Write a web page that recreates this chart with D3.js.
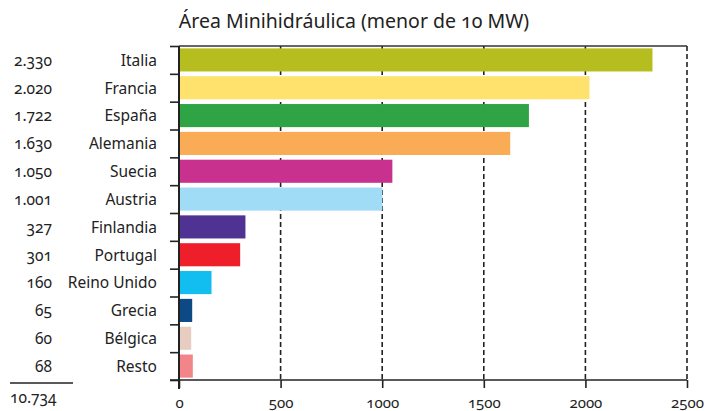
<!DOCTYPE html>
<html>
<head>
<meta charset="utf-8">
<script src="https://cdn.jsdelivr.net/npm/d3@7"></script>
<style>
  body { margin: 0; background: #fff; }
  svg text { font-family: "Noto Sans", sans-serif; fill: #222; font-feature-settings: "onum" 1; }
</style>
</head>
<body>
<div id="chart"></div>
<script>
// Chart data
const categories = ['Italia', 'Francia', 'España', 'Alemania', 'Suecia', 'Austria',
  'Finlandia', 'Portugal', 'Reino Unido', 'Grecia', 'Bélgica', 'Resto']
const values = [2330, 2020, 1722, 1630, 1050, 1001, 327, 301, 160, 65, 60, 68]
const colors = ['#b5bd1f', '#fee26d', '#2ea444', '#f9ab55', '#c9318f', '#a1dcf6',
  '#4f3292', '#ee1f2a', '#12bdef', '#0d4a85', '#e7cdc1', '#f28587']
const xTicks = [0, 500, 1000, 1500, 2000, 2500]
const title = 'Área Minihidráulica (menor de 10 MW)'

const width = 712,
  height = 411,
  plotTop = 46,
  plotBottom = 380,
  plotLeft = 179,
  plotRight = 687

const svg = d3.select('#chart')
  .append('svg')
  .attr('width', width)
  .attr('height', height)

const fmt = d3.formatLocale({ decimal: ',', thousands: '.', grouping: [3], currency: ['', ''] }).format(',d')

const x = d3.scaleLinear()
  .domain([0, 2500])
  .range([plotLeft, plotRight])

const y = d3.scaleBand()
  .domain(categories)
  .range([plotTop, plotBottom])
  .paddingInner(0.17)
  .paddingOuter(0.085)

// band boundaries for the left ticks
const yEdge = d3.scaleLinear()
  .domain([0, categories.length])
  .range([plotTop, plotBottom])

// title
svg.append('text')
  .attr('x', 354)
  .attr('y', 28)
  .attr('text-anchor', 'middle')
  .style('font-size', '19.5px')
  .text(title)

// dashed gridlines
svg.append('g')
  .selectAll('line')
  .data(xTicks.slice(1))
  .enter()
  .append('line')
  .attr('x1', d => x(d))
  .attr('x2', d => x(d))
  .attr('y1', plotTop)
  .attr('y2', plotBottom)
  .attr('stroke', '#222')
  .attr('stroke-width', 1.6)
  .attr('stroke-dasharray', '5,3')

// top frame line
svg.append('line')
  .attr('x1', x(0))
  .attr('x2', x(2500))
  .attr('y1', plotTop)
  .attr('y2', plotTop)
  .attr('stroke', '#333')
  .attr('stroke-width', 1.5)

// bars
svg.selectAll('rect.bar')
  .data(values)
  .enter()
  .append('rect')
  .attr('class', 'bar')
  .attr('x', x(0))
  .attr('y', (d, i) => y(categories[i]))
  .attr('width', d => x(d) - x(0))
  .attr('height', y.bandwidth())
  .attr('fill', (d, i) => colors[i])

// left axis (ticks at band edges)
const yAxis = svg.append('g')
  .attr('transform', `translate(${x(0)},0)`)
  .call(d3.axisLeft(yEdge).tickValues(d3.range(categories.length + 1)).tickSize(9).tickFormat(''))
yAxis.select('.domain').remove()
yAxis.selectAll('line').attr('stroke', '#222').attr('stroke-width', 1.6)
yAxis.append('line')
  .attr('x1', 0).attr('x2', 0)
  .attr('y1', plotTop).attr('y2', plotBottom + 9)
  .attr('stroke', '#222').attr('stroke-width', 2)

// bottom axis
const xAxis = svg.append('g')
  .attr('transform', `translate(0,${plotBottom})`)
  .call(d3.axisBottom(x).tickValues(xTicks).tickFormat(d3.format('d')).tickSize(8).tickPadding(9))
xAxis.select('.domain').remove()
xAxis.selectAll('line').attr('stroke', '#222').attr('stroke-width', 1.6)
xAxis.selectAll('text')
  .style('font-size', '15px')
  .style('font-family', '"Noto Sans", sans-serif')
  .attr('fill', '#222')
xAxis.append('line')
  .attr('x1', x(0) - 9).attr('x2', x(2500))
  .attr('y1', 0).attr('y2', 0)
  .attr('stroke', '#222').attr('stroke-width', 1.6)

// category labels
svg.selectAll('text.cat')
  .data(categories)
  .enter()
  .append('text')
  .attr('class', 'cat')
  .attr('x', 157)
  .attr('y', d => y(d) + y.bandwidth() / 2)
  .attr('dy', '0.38em')
  .attr('text-anchor', 'end')
  .style('font-size', '15.5px')
  .text(d => d)

// value labels
svg.selectAll('text.val')
  .data(values)
  .enter()
  .append('text')
  .attr('class', 'val')
  .attr('x', 52)
  .attr('y', (d, i) => y(categories[i]) + y.bandwidth() / 2)
  .attr('dy', '0.38em')
  .attr('text-anchor', 'end')
  .style('font-size', '15.5px')
  .text(d => fmt(d))

// total
svg.append('line')
  .attr('x1', 10).attr('x2', 73)
  .attr('y1', 383).attr('y2', 383)
  .attr('stroke', '#222').attr('stroke-width', 1.6)

svg.append('text')
  .attr('x', 10)
  .attr('y', 403)
  .style('font-size', '15.5px')
  .text(fmt(d3.sum(values)))
</script>
</body>
</html>
